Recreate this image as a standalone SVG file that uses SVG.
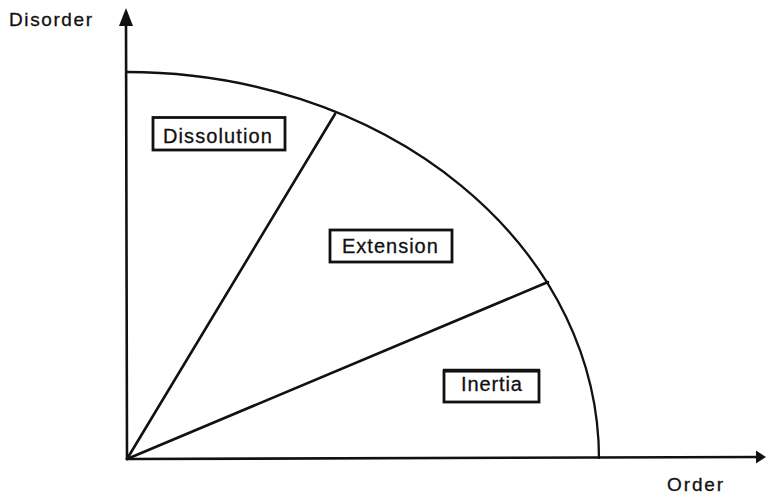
<svg xmlns="http://www.w3.org/2000/svg" width="766" height="496" viewBox="0 0 766 496">
  <style>
    .ln { fill: none; stroke: #111; stroke-width: 2.6; stroke-linecap: round; }
    .arc { fill: none; stroke: #111; stroke-width: 2.3; }
    .box { fill: #fff; stroke: #111; stroke-width: 2.8; }
    .lbl { font-family: "Liberation Sans", Arial, sans-serif; font-size: 20px; fill: #111; stroke: #111; stroke-width: 0.3; }
    .ax { font-family: "Liberation Sans", Arial, sans-serif; font-size: 19px; fill: #111; stroke: #111; stroke-width: 0.3; }
    .head { fill: #111; stroke: none; }
  </style>
  <rect width="766" height="496" fill="#fff"/>

  <g id="connectors">
    <!-- axes -->
    <line class="ln" x1="127" y1="459" x2="126" y2="22"/>
    <line class="ln" x1="127" y1="459" x2="760" y2="457"/>
    <polygon class="head" points="126,8 119,26 133,26"/>
    <polygon class="head" points="766,457 756,450.5 756,463.5"/>
    <!-- quarter boundary -->
    <path class="arc" d="M127,72 A472,387 0 0 1 599,459"/>
    <!-- sector dividers -->
    <line class="ln" x1="127" y1="459" x2="335" y2="114"/>
    <line class="ln" x1="127" y1="459" x2="548" y2="282"/>
  </g>

  <g id="axis-disorder">
    <text class="ax" x="9" y="26" letter-spacing="1.6">Disorder</text>
  </g>
  <g id="axis-order">
    <text class="ax" x="667" y="491" letter-spacing="1.9">Order</text>
  </g>

  <g id="dissolution">
    <rect class="box" x="153" y="117.5" width="132" height="32.5"/>
    <text class="lbl" x="163" y="143" letter-spacing="1.1">Dissolution</text>
  </g>
  <g id="extension">
    <rect class="box" x="330" y="230" width="122" height="32"/>
    <text class="lbl" x="342" y="253" letter-spacing="1">Extension</text>
  </g>
  <g id="inertia">
    <rect class="box" x="444" y="371" width="95" height="31"/>
    <line x1="443" y1="370.5" x2="540" y2="370.5" stroke="#111" stroke-width="3.4"/>
    <text class="lbl" x="461" y="391" letter-spacing="0.9">Inertia</text>
  </g>
</svg>
